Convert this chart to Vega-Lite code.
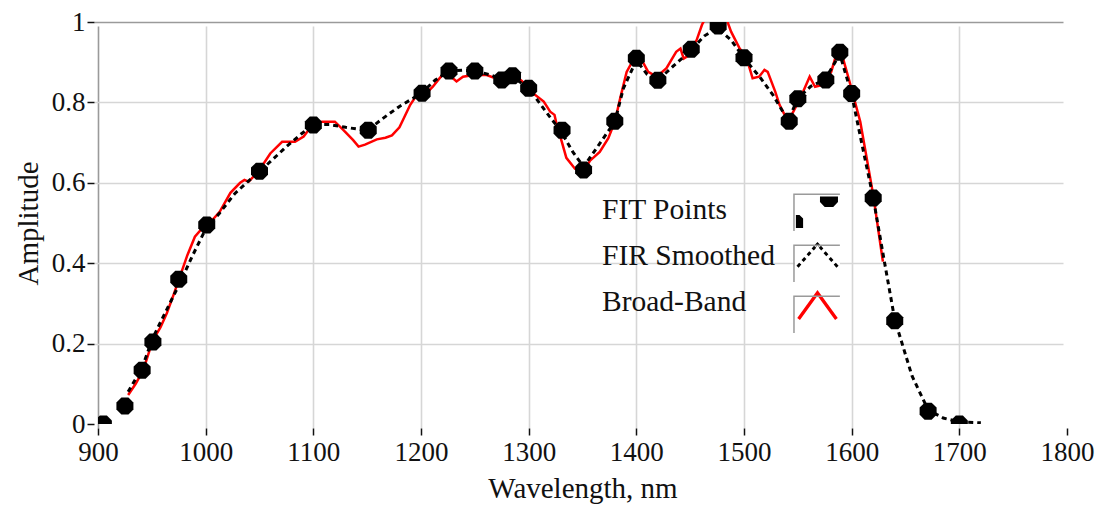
{
  "$schema": "https://vega.github.io/schema/vega-lite/v6.json",
  "width": 969,
  "height": 402,
  "autosize": {"type": "none"},
  "padding": {"left": 98, "top": 22, "right": 35, "bottom": 81},
  "background": "white",
  "config": {
    "view": {"stroke": null},
    "font": "Liberation Serif",
    "axis": {
      "labelFont": "Liberation Serif",
      "labelFontSize": 27,
      "labelColor": "#111",
      "titleFont": "Liberation Serif",
      "titleFontSize": 29,
      "titleFontWeight": "normal",
      "titleColor": "#111",
      "domain": false,
      "tickColor": "#111",
      "tickWidth": 1.5,
      "tickSize": 7,
      "offset": 4,
      "gridWidth": 1.6
    },
    "legend": {
      "title": null,
      "orient": "none",
      "legendX": 697,
      "legendY": 165.5,
      "labelFont": "Liberation Serif",
      "labelFontSize": 29.5,
      "labelColor": "#111",
      "labelLimit": 400,
      "symbolSize": 2025,
      "symbolOffset": 0,
      "symbolOpacity": 1
    }
  },
  "data": {
    "values": [
      {"series": "Broad-Band", "wl": 928, "amp": 0.072},
      {"series": "Broad-Band", "wl": 935, "amp": 0.1},
      {"series": "Broad-Band", "wl": 942, "amp": 0.134},
      {"series": "Broad-Band", "wl": 951, "amp": 0.209},
      {"series": "Broad-Band", "wl": 958, "amp": 0.24},
      {"series": "Broad-Band", "wl": 964, "amp": 0.276},
      {"series": "Broad-Band", "wl": 970, "amp": 0.32},
      {"series": "Broad-Band", "wl": 976, "amp": 0.366},
      {"series": "Broad-Band", "wl": 983, "amp": 0.42},
      {"series": "Broad-Band", "wl": 990, "amp": 0.466},
      {"series": "Broad-Band", "wl": 1001, "amp": 0.5},
      {"series": "Broad-Band", "wl": 1007, "amp": 0.51},
      {"series": "Broad-Band", "wl": 1013, "amp": 0.528},
      {"series": "Broad-Band", "wl": 1023, "amp": 0.575},
      {"series": "Broad-Band", "wl": 1032, "amp": 0.6},
      {"series": "Broad-Band", "wl": 1036, "amp": 0.607},
      {"series": "Broad-Band", "wl": 1040, "amp": 0.603},
      {"series": "Broad-Band", "wl": 1049, "amp": 0.628},
      {"series": "Broad-Band", "wl": 1060, "amp": 0.673},
      {"series": "Broad-Band", "wl": 1071, "amp": 0.702},
      {"series": "Broad-Band", "wl": 1083, "amp": 0.702},
      {"series": "Broad-Band", "wl": 1091, "amp": 0.715},
      {"series": "Broad-Band", "wl": 1098, "amp": 0.74},
      {"series": "Broad-Band", "wl": 1108, "amp": 0.752},
      {"series": "Broad-Band", "wl": 1120, "amp": 0.752},
      {"series": "Broad-Band", "wl": 1128, "amp": 0.731},
      {"series": "Broad-Band", "wl": 1137, "amp": 0.706},
      {"series": "Broad-Band", "wl": 1142, "amp": 0.69},
      {"series": "Broad-Band", "wl": 1148, "amp": 0.695},
      {"series": "Broad-Band", "wl": 1159, "amp": 0.708},
      {"series": "Broad-Band", "wl": 1167, "amp": 0.712},
      {"series": "Broad-Band", "wl": 1173, "amp": 0.718},
      {"series": "Broad-Band", "wl": 1180, "amp": 0.738},
      {"series": "Broad-Band", "wl": 1190, "amp": 0.794},
      {"series": "Broad-Band", "wl": 1196, "amp": 0.818},
      {"series": "Broad-Band", "wl": 1205, "amp": 0.823},
      {"series": "Broad-Band", "wl": 1211, "amp": 0.839},
      {"series": "Broad-Band", "wl": 1216, "amp": 0.856},
      {"series": "Broad-Band", "wl": 1221, "amp": 0.872},
      {"series": "Broad-Band", "wl": 1227, "amp": 0.866},
      {"series": "Broad-Band", "wl": 1233, "amp": 0.852},
      {"series": "Broad-Band", "wl": 1239, "amp": 0.864},
      {"series": "Broad-Band", "wl": 1249, "amp": 0.868},
      {"series": "Broad-Band", "wl": 1261, "amp": 0.868},
      {"series": "Broad-Band", "wl": 1267, "amp": 0.862},
      {"series": "Broad-Band", "wl": 1276, "amp": 0.868},
      {"series": "Broad-Band", "wl": 1289, "amp": 0.864},
      {"series": "Broad-Band", "wl": 1298, "amp": 0.843},
      {"series": "Broad-Band", "wl": 1304, "amp": 0.823},
      {"series": "Broad-Band", "wl": 1314, "amp": 0.802},
      {"series": "Broad-Band", "wl": 1320, "amp": 0.777},
      {"series": "Broad-Band", "wl": 1324, "amp": 0.769},
      {"series": "Broad-Band", "wl": 1326, "amp": 0.745},
      {"series": "Broad-Band", "wl": 1331, "amp": 0.7},
      {"series": "Broad-Band", "wl": 1335, "amp": 0.662},
      {"series": "Broad-Band", "wl": 1343, "amp": 0.635},
      {"series": "Broad-Band", "wl": 1351, "amp": 0.628},
      {"series": "Broad-Band", "wl": 1357, "amp": 0.655},
      {"series": "Broad-Band", "wl": 1366, "amp": 0.677},
      {"series": "Broad-Band", "wl": 1374, "amp": 0.711},
      {"series": "Broad-Band", "wl": 1380, "amp": 0.752},
      {"series": "Broad-Band", "wl": 1385, "amp": 0.81},
      {"series": "Broad-Band", "wl": 1391, "amp": 0.876},
      {"series": "Broad-Band", "wl": 1397, "amp": 0.905},
      {"series": "Broad-Band", "wl": 1406, "amp": 0.901},
      {"series": "Broad-Band", "wl": 1411, "amp": 0.876},
      {"series": "Broad-Band", "wl": 1419, "amp": 0.864},
      {"series": "Broad-Band", "wl": 1428, "amp": 0.885},
      {"series": "Broad-Band", "wl": 1437, "amp": 0.926},
      {"series": "Broad-Band", "wl": 1441, "amp": 0.934},
      {"series": "Broad-Band", "wl": 1444, "amp": 0.909},
      {"series": "Broad-Band", "wl": 1447, "amp": 0.914},
      {"series": "Broad-Band", "wl": 1456, "amp": 0.955},
      {"series": "Broad-Band", "wl": 1461, "amp": 0.993},
      {"series": "Broad-Band", "wl": 1466, "amp": 1.02},
      {"series": "Broad-Band", "wl": 1474, "amp": 1.03},
      {"series": "Broad-Band", "wl": 1482, "amp": 1.02},
      {"series": "Broad-Band", "wl": 1488, "amp": 0.976},
      {"series": "Broad-Band", "wl": 1496, "amp": 0.934},
      {"series": "Broad-Band", "wl": 1502, "amp": 0.914},
      {"series": "Broad-Band", "wl": 1508, "amp": 0.86},
      {"series": "Broad-Band", "wl": 1514, "amp": 0.864},
      {"series": "Broad-Band", "wl": 1519, "amp": 0.881},
      {"series": "Broad-Band", "wl": 1522, "amp": 0.876},
      {"series": "Broad-Band", "wl": 1529, "amp": 0.827},
      {"series": "Broad-Band", "wl": 1533, "amp": 0.794},
      {"series": "Broad-Band", "wl": 1541, "amp": 0.752},
      {"series": "Broad-Band", "wl": 1549, "amp": 0.794},
      {"series": "Broad-Band", "wl": 1555, "amp": 0.827},
      {"series": "Broad-Band", "wl": 1561, "amp": 0.864},
      {"series": "Broad-Band", "wl": 1566, "amp": 0.839},
      {"series": "Broad-Band", "wl": 1572, "amp": 0.843},
      {"series": "Broad-Band", "wl": 1581, "amp": 0.876},
      {"series": "Broad-Band", "wl": 1586, "amp": 0.922},
      {"series": "Broad-Band", "wl": 1592, "amp": 0.909},
      {"series": "Broad-Band", "wl": 1598, "amp": 0.852},
      {"series": "Broad-Band", "wl": 1608, "amp": 0.752},
      {"series": "Broad-Band", "wl": 1620, "amp": 0.57},
      {"series": "Broad-Band", "wl": 1629, "amp": 0.404},

      {"series": "FIR Smoothed", "wl": 928, "amp": 0.08},
      {"series": "FIR Smoothed", "wl": 941, "amp": 0.14},
      {"series": "FIR Smoothed", "wl": 951, "amp": 0.215},
      {"series": "FIR Smoothed", "wl": 963, "amp": 0.28},
      {"series": "FIR Smoothed", "wl": 975, "amp": 0.345},
      {"series": "FIR Smoothed", "wl": 988, "amp": 0.42},
      {"series": "FIR Smoothed", "wl": 1000, "amp": 0.485},
      {"series": "FIR Smoothed", "wl": 1013, "amp": 0.525},
      {"series": "FIR Smoothed", "wl": 1027, "amp": 0.573},
      {"series": "FIR Smoothed", "wl": 1040, "amp": 0.605},
      {"series": "FIR Smoothed", "wl": 1050, "amp": 0.628},
      {"series": "FIR Smoothed", "wl": 1063, "amp": 0.66},
      {"series": "FIR Smoothed", "wl": 1075, "amp": 0.69},
      {"series": "FIR Smoothed", "wl": 1089, "amp": 0.722},
      {"series": "FIR Smoothed", "wl": 1100, "amp": 0.745},
      {"series": "FIR Smoothed", "wl": 1115, "amp": 0.745},
      {"series": "FIR Smoothed", "wl": 1130, "amp": 0.738},
      {"series": "FIR Smoothed", "wl": 1150, "amp": 0.73},
      {"series": "FIR Smoothed", "wl": 1165, "amp": 0.761},
      {"series": "FIR Smoothed", "wl": 1180, "amp": 0.79},
      {"series": "FIR Smoothed", "wl": 1200, "amp": 0.822},
      {"series": "FIR Smoothed", "wl": 1213, "amp": 0.855},
      {"series": "FIR Smoothed", "wl": 1226, "amp": 0.878},
      {"series": "FIR Smoothed", "wl": 1240, "amp": 0.88},
      {"series": "FIR Smoothed", "wl": 1250, "amp": 0.878},
      {"series": "FIR Smoothed", "wl": 1265, "amp": 0.868},
      {"series": "FIR Smoothed", "wl": 1275, "amp": 0.858},
      {"series": "FIR Smoothed", "wl": 1285, "amp": 0.864},
      {"series": "FIR Smoothed", "wl": 1300, "amp": 0.835},
      {"series": "FIR Smoothed", "wl": 1316, "amp": 0.777},
      {"series": "FIR Smoothed", "wl": 1330, "amp": 0.728},
      {"series": "FIR Smoothed", "wl": 1341, "amp": 0.677},
      {"series": "FIR Smoothed", "wl": 1351, "amp": 0.64},
      {"series": "FIR Smoothed", "wl": 1363, "amp": 0.686},
      {"series": "FIR Smoothed", "wl": 1380, "amp": 0.752},
      {"series": "FIR Smoothed", "wl": 1388, "amp": 0.835},
      {"series": "FIR Smoothed", "wl": 1400, "amp": 0.905},
      {"series": "FIR Smoothed", "wl": 1410, "amp": 0.87},
      {"series": "FIR Smoothed", "wl": 1420, "amp": 0.855},
      {"series": "FIR Smoothed", "wl": 1435, "amp": 0.892},
      {"series": "FIR Smoothed", "wl": 1451, "amp": 0.93},
      {"series": "FIR Smoothed", "wl": 1463, "amp": 0.965},
      {"series": "FIR Smoothed", "wl": 1475, "amp": 0.985},
      {"series": "FIR Smoothed", "wl": 1488, "amp": 0.955},
      {"series": "FIR Smoothed", "wl": 1500, "amp": 0.91},
      {"series": "FIR Smoothed", "wl": 1515, "amp": 0.862},
      {"series": "FIR Smoothed", "wl": 1527, "amp": 0.818},
      {"series": "FIR Smoothed", "wl": 1541, "amp": 0.755},
      {"series": "FIR Smoothed", "wl": 1550, "amp": 0.81},
      {"series": "FIR Smoothed", "wl": 1562, "amp": 0.84},
      {"series": "FIR Smoothed", "wl": 1575, "amp": 0.856},
      {"series": "FIR Smoothed", "wl": 1589, "amp": 0.92},
      {"series": "FIR Smoothed", "wl": 1600, "amp": 0.82},
      {"series": "FIR Smoothed", "wl": 1610, "amp": 0.69},
      {"series": "FIR Smoothed", "wl": 1620, "amp": 0.563},
      {"series": "FIR Smoothed", "wl": 1630, "amp": 0.41},
      {"series": "FIR Smoothed", "wl": 1640, "amp": 0.26},
      {"series": "FIR Smoothed", "wl": 1656, "amp": 0.12},
      {"series": "FIR Smoothed", "wl": 1671, "amp": 0.035},
      {"series": "FIR Smoothed", "wl": 1685, "amp": 0.015},
      {"series": "FIR Smoothed", "wl": 1700, "amp": 0.005},
      {"series": "FIR Smoothed", "wl": 1720, "amp": 0.003},

      {"series": "FIT Points", "wl": 905, "amp": 0},
      {"series": "FIT Points", "wl": 925, "amp": 0.045},
      {"series": "FIT Points", "wl": 941, "amp": 0.134},
      {"series": "FIT Points", "wl": 951, "amp": 0.204},
      {"series": "FIT Points", "wl": 975, "amp": 0.36},
      {"series": "FIT Points", "wl": 1001, "amp": 0.495},
      {"series": "FIT Points", "wl": 1050, "amp": 0.629},
      {"series": "FIT Points", "wl": 1100, "amp": 0.744},
      {"series": "FIT Points", "wl": 1151, "amp": 0.731},
      {"series": "FIT Points", "wl": 1201, "amp": 0.823},
      {"series": "FIT Points", "wl": 1226, "amp": 0.878},
      {"series": "FIT Points", "wl": 1250, "amp": 0.878},
      {"series": "FIT Points", "wl": 1275, "amp": 0.856},
      {"series": "FIT Points", "wl": 1285, "amp": 0.866},
      {"series": "FIT Points", "wl": 1300, "amp": 0.835},
      {"series": "FIT Points", "wl": 1331, "amp": 0.731},
      {"series": "FIT Points", "wl": 1351, "amp": 0.632},
      {"series": "FIT Points", "wl": 1380, "amp": 0.753},
      {"series": "FIT Points", "wl": 1400, "amp": 0.91},
      {"series": "FIT Points", "wl": 1420, "amp": 0.855},
      {"series": "FIT Points", "wl": 1451, "amp": 0.932},
      {"series": "FIT Points", "wl": 1476, "amp": 0.99},
      {"series": "FIT Points", "wl": 1500, "amp": 0.911},
      {"series": "FIT Points", "wl": 1542, "amp": 0.753},
      {"series": "FIT Points", "wl": 1550, "amp": 0.809},
      {"series": "FIT Points", "wl": 1576, "amp": 0.856},
      {"series": "FIT Points", "wl": 1589, "amp": 0.925},
      {"series": "FIT Points", "wl": 1600, "amp": 0.822},
      {"series": "FIT Points", "wl": 1620, "amp": 0.562},
      {"series": "FIT Points", "wl": 1640, "amp": 0.257},
      {"series": "FIT Points", "wl": 1671, "amp": 0.032},
      {"series": "FIT Points", "wl": 1700, "amp": 0}
    ]
  },
  "encoding": {
    "x": {
      "field": "wl",
      "type": "quantitative",
      "scale": {"domain": [900, 1800], "nice": false, "zero": false},
      "axis": {
        "title": "Wavelength, nm",
        "values": [900, 1000, 1100, 1200, 1300, 1400, 1500, 1600, 1700, 1800],
        "format": "d",
        "labelFlush": false,
        "labelPadding": 4,
        "titlePadding": 9,
        "gridColor": {"condition": {"test": "datum.value === 900", "value": "#9a9a9a"}, "value": "#d6d6d6"},
        "gridOpacity": {"condition": {"test": "datum.value === 1800", "value": 0}, "value": 1}
      }
    },
    "y": {
      "field": "amp",
      "type": "quantitative",
      "scale": {"domain": [0, 1], "nice": false},
      "axis": {
        "title": "Amplitude",
        "values": [0, 0.2, 0.4, 0.6, 0.8, 1],
        "format": "~g",
        "labelPadding": 2,
        "titlePadding": 8,
        "gridColor": {"condition": {"test": "datum.value === 1", "value": "#9a9a9a"}, "value": "#d6d6d6"},
        "gridOpacity": {"condition": {"test": "datum.value === 0", "value": 0}, "value": 1}
      }
    }
  },
  "layer": [
    {
      "transform": [{"filter": "datum.series === 'Broad-Band'"}],
      "mark": {"type": "line", "color": "#ff0000", "strokeWidth": 2.5, "clip": true}
    },
    {
      "transform": [{"filter": "datum.series === 'FIR Smoothed'"}],
      "mark": {"type": "line", "color": "#000000", "strokeWidth": 3, "strokeDash": [5, 4], "clip": true}
    },
    {
      "transform": [{"filter": "datum.series === 'FIT Points'"}],
      "mark": {
        "type": "point",
        "filled": true,
        "color": "#000000",
        "opacity": 1,
        "size": 289,
        "shape": "M-0.414,-1L0.414,-1L1,-0.414L1,0.414L0.414,1L-0.414,1L-1,0.414L-1,-0.414Z",
        "clip": true
      }
    },
    {
      "transform": [{"filter": "datum.amp > 2"}],
      "mark": {"type": "point", "filled": true, "opacity": 1, "strokeWidth": 0},
      "encoding": {
        "color": {
          "field": "series",
          "type": "nominal",
          "scale": {"domain": ["FIT Points", "FIR Smoothed", "Broad-Band"], "range": ["#000000", "#000000", "#ff0000"]},
          "legend": {
            "zindex": 1,
            "fillColor": "white",
            "rowPadding": 1,
            "labelOffset": -238,
            "symbolStrokeWidth": 0
          }
        },
        "shape": {
          "field": "series",
          "type": "nominal",
          "scale": {
            "domain": ["FIT Points", "FIR Smoothed", "Broad-Band"],
            "range": [
              "M-1,-1M1,1M0.11,-0.6L0.91,-0.6L0.91,-0.36L0.7,-0.13L0.32,-0.13L0.11,-0.36Z M-0.96,0.22L-0.8,0.22L-0.64,0.38L-0.64,0.8L-0.96,0.8Z",
              "M-1,-1M1,1M-0.838,0.518L-0.719,0.383L-0.817,0.297L-0.936,0.432Z M-0.613,0.263L-0.494,0.128L-0.592,0.042L-0.711,0.177Z M-0.388,0.008L-0.268,-0.127L-0.366,-0.213L-0.486,-0.078Z M-0.163,-0.247L-0.057,-0.367L-0.155,-0.453L-0.261,-0.333Z M-0.115,-0.498L0,-0.62L0.115,-0.498L0.066,-0.41L0,-0.47L-0.066,-0.41Z M0.838,0.518L0.719,0.383L0.817,0.297L0.936,0.432Z M0.613,0.263L0.494,0.128L0.592,0.042L0.711,0.177Z M0.388,0.008L0.268,-0.127L0.366,-0.213L0.486,-0.078Z M0.163,-0.247L0.057,-0.367L0.155,-0.453L0.261,-0.333Z",
              "M-1,-1M1,1M-0.9,0.71L0,-0.53L0.9,0.71L0.78,0.8L0,-0.28L-0.78,0.8Z"
            ]
          },
          "legend": {
            "zindex": 1,
            "fillColor": "white",
            "rowPadding": 1,
            "labelOffset": -238,
            "symbolStrokeWidth": 0
          }
        }
      }
    },
    {
      "transform": [{"filter": "datum.amp > 2"}],
      "mark": {"type": "point", "filled": false, "color": "#9a9a9a", "strokeWidth": 1.5, "opacity": 1},
      "encoding": {
        "size": {
          "field": "series",
          "type": "ordinal",
          "scale": {"domain": ["Broad-Band", "FIR Smoothed", "FIT Points"], "range": [2025, 2025, 2025]},
          "legend": {
            "zindex": 2,
            "rowPadding": 0,
            "labelExpr": "''",
            "symbolType": "M-1.09,-0.989M0.95,0.989M0.95,-0.75L-1.09,-0.75L-1.09,0.89",
            "symbolStrokeColor": "#9a9a9a",
            "symbolFillColor": "transparent",
            "symbolStrokeWidth": 1.5
          }
        }
      }
    }
  ]
}
